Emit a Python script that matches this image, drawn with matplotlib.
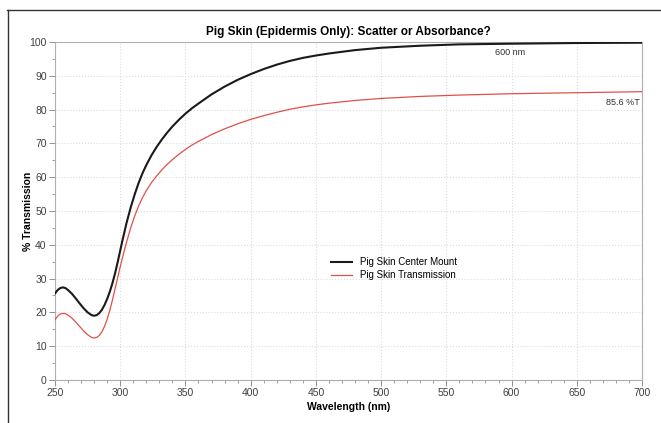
import matplotlib
matplotlib.use("Agg")
import matplotlib.pyplot as plt
from matplotlib.lines import Line2D
from matplotlib.ticker import MultipleLocator

plt.rcParams["font.family"] = ["Liberation Sans Narrow", "Liberation Sans", "DejaVu Sans"]

# ----------------------------
# Spectra (nm, %T)
# ----------------------------
wavelength = [250, 252, 254, 256, 258, 260, 263, 266, 269, 272, 275, 278, 280, 282,
              284, 286, 288, 290, 292, 294, 296, 298, 300, 302, 305, 308, 311, 314,
              317, 320, 324, 328, 332, 336, 340, 345, 350, 355, 360, 370, 380, 390,
              400, 410, 420, 430, 440, 450, 460, 480, 500, 530, 560, 600, 650, 700]

center_mount = [25.6, 26.6, 27.2, 27.4, 27.2, 26.6, 25.5, 24.1, 22.6, 21.2, 20.0, 19.2, 19.0, 19.2,
                19.8, 20.8, 22.2, 24.0, 26.1, 28.6, 31.5, 34.8, 38.3, 41.8, 46.7, 51.0, 54.8, 58.2,
                61.1, 63.6, 66.5, 69.0, 71.2, 73.2, 75.0, 77.0, 78.8, 80.4, 81.8, 84.5, 86.8, 88.8,
                90.5, 92.0, 93.3, 94.4, 95.3, 96.0, 96.6, 97.6, 98.3, 98.9, 99.3, 99.5, 99.7, 99.8]

transmission = [17.8, 18.9, 19.5, 19.7, 19.6, 19.2, 18.3, 17.1, 15.8, 14.5, 13.4, 12.6, 12.4, 12.6,
                13.2, 14.3, 15.9, 18.0, 20.6, 23.6, 26.9, 30.2, 33.5, 36.6, 41.0, 45.0, 48.4, 51.4,
                53.9, 56.0, 58.4, 60.4, 62.2, 63.8, 65.2, 66.8, 68.2, 69.5, 70.6, 72.6, 74.3, 75.8,
                77.1, 78.2, 79.2, 80.1, 80.8, 81.4, 81.9, 82.7, 83.3, 83.9, 84.3, 84.7, 85.0, 85.3]

series_labels = ["Pig Skin Center Mount", "Pig Skin Transmission"]

fig = plt.figure(figsize=(6.61, 4.23), dpi=100)
ax = fig.add_axes([0.0832, 0.1017, 0.8881, 0.799])

ax.plot(wavelength, center_mount, color="#1a1a1a", lw=1.5, label=series_labels[0], zorder=3)
ax.plot(wavelength, transmission, color="#e0504a", lw=0.9, label=series_labels[1], zorder=3)

ax.set_xlim(250, 700)
ax.set_ylim(0, 100)
ax.xaxis.set_major_locator(MultipleLocator(50))
ax.xaxis.set_minor_locator(MultipleLocator(10))
ax.yaxis.set_major_locator(MultipleLocator(10))
ax.yaxis.set_minor_locator(MultipleLocator(5))

ax.grid(True, which="major", color="#dcdcdc", linestyle=":", linewidth=0.8)
for s in ax.spines.values():
    s.set_color("#b0b0b0")
    s.set_linewidth(0.8)
ax.tick_params(which="major", length=4, width=0.7, color="#909090",
               labelsize=7.5, labelcolor="#404040", pad=2)
ax.tick_params(which="minor", length=2.5, width=0.6, color="#909090")

ax.set_title("Pig Skin (Epidermis Only): Scatter or Absorbance?",
             fontsize=8.5, fontweight="bold", pad=5)
ax.set_xlabel("Wavelength (nm)", fontsize=7.5, fontweight="bold", labelpad=3)
ax.set_ylabel("% Transmission", fontsize=7.5, fontweight="bold")
ax.yaxis.set_label_coords(-0.038, 0.5)

ax.text(599, 97, "600 nm", fontsize=6.5, color="#303030", ha="center", va="center")
ax.text(698, 82, "85.6 %T", fontsize=6.5, color="#303030", ha="right", va="center")

leg = ax.legend(loc="center left", bbox_to_anchor=(0.455, 0.33), frameon=False,
                fontsize=7, handlelength=2.2, handletextpad=0.8, labelspacing=0.3)

# outer frame (top and left edges)
fig.add_artist(Line2D([0.011, 1.0], [0.976, 0.976], transform=fig.transFigure,
                      color="#333333", lw=1.0))
fig.add_artist(Line2D([0.012, 0.012], [0.0, 0.976], transform=fig.transFigure,
                      color="#333333", lw=1.0))

fig.savefig("out.png", dpi=100)
